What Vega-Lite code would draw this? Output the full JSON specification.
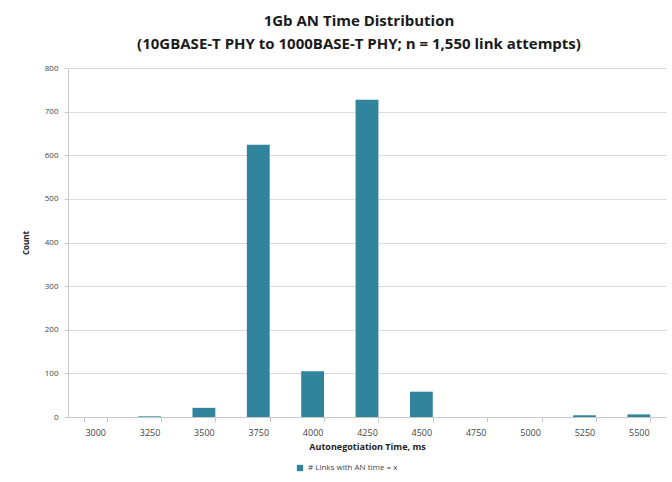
{
  "$schema": "https://vega.github.io/schema/vega-lite/v6.json",
  "width": 598,
  "height": 349,
  "autosize": {"type": "none"},
  "padding": {"left": 68, "top": 68, "right": 6, "bottom": 65},
  "background": "white",
  "title": {
    "text": ["1Gb AN Time Distribution", "(10GBASE-T PHY to 1000BASE-T PHY; n = 1,550 link attempts)"],
    "font": "Open Sans",
    "fontSize": 15,
    "fontWeight": "bold",
    "color": "#1a1a1a",
    "anchor": "middle",
    "dx": -8,
    "lineHeight": 23,
    "offset": 12
  },
  "data": {
    "values": [
      {"time": "3000", "count": 0, "series": "# Links with AN time = x"},
      {"time": "3250", "count": 1.5, "series": "# Links with AN time = x"},
      {"time": "3500", "count": 21, "series": "# Links with AN time = x"},
      {"time": "3750", "count": 624, "series": "# Links with AN time = x"},
      {"time": "4000", "count": 105, "series": "# Links with AN time = x"},
      {"time": "4250", "count": 727, "series": "# Links with AN time = x"},
      {"time": "4500", "count": 58, "series": "# Links with AN time = x"},
      {"time": "4750", "count": 0, "series": "# Links with AN time = x"},
      {"time": "5000", "count": 0, "series": "# Links with AN time = x"},
      {"time": "5250", "count": 4, "series": "# Links with AN time = x"},
      {"time": "5500", "count": 6, "series": "# Links with AN time = x"}
    ]
  },
  "mark": {"type": "bar"},
  "encoding": {
    "x": {
      "field": "time",
      "type": "ordinal",
      "sort": null,
      "scale": {"paddingInner": 0.58, "paddingOuter": 0.29},
      "axis": {
        "title": "Autonegotiation Time, ms",
        "titleFont": "Open Sans",
        "titleFontSize": 9,
        "titleFontWeight": "bold",
        "titleColor": "#222",
        "titlePadding": 5,
        "labelAngle": 0,
        "labelFont": "Open Sans",
        "labelFontSize": 9,
        "labelColor": "#444",
        "labelPadding": 6,
        "tickBand": "extent",
        "tickColor": "#c8c8c8",
        "tickSize": 5,
        "domainColor": "#c8c8c8",
        "grid": false
      }
    },
    "y": {
      "field": "count",
      "type": "quantitative",
      "scale": {"domain": [0, 800]},
      "axis": {
        "title": "Count",
        "titleFont": "Open Sans",
        "titleFontSize": 8,
        "titleFontWeight": "bold",
        "titleColor": "#222",
        "titlePadding": 14,
        "labelFont": "Open Sans",
        "labelFontSize": 8,
        "labelColor": "#444",
        "labelPadding": 6,
        "labelOverlap": false,
        "values": [0, 100, 200, 300, 400, 500, 600, 700, 800],
        "tickColor": "#c8c8c8",
        "tickSize": 4,
        "domainColor": "#c8c8c8",
        "gridColor": "#dcdcdc",
        "gridWidth": 1
      }
    },
    "color": {
      "field": "series",
      "type": "nominal",
      "scale": {"range": ["#31849b"]},
      "legend": {
        "title": null,
        "orient": "none",
        "legendX": 228,
        "legendY": 396,
        "direction": "horizontal",
        "symbolType": "square",
        "symbolSize": 40,
        "labelFont": "Open Sans",
        "labelFontSize": 8,
        "labelColor": "#444",
        "padding": 0
      }
    }
  },
  "config": {
    "view": {"stroke": null}
  }
}
